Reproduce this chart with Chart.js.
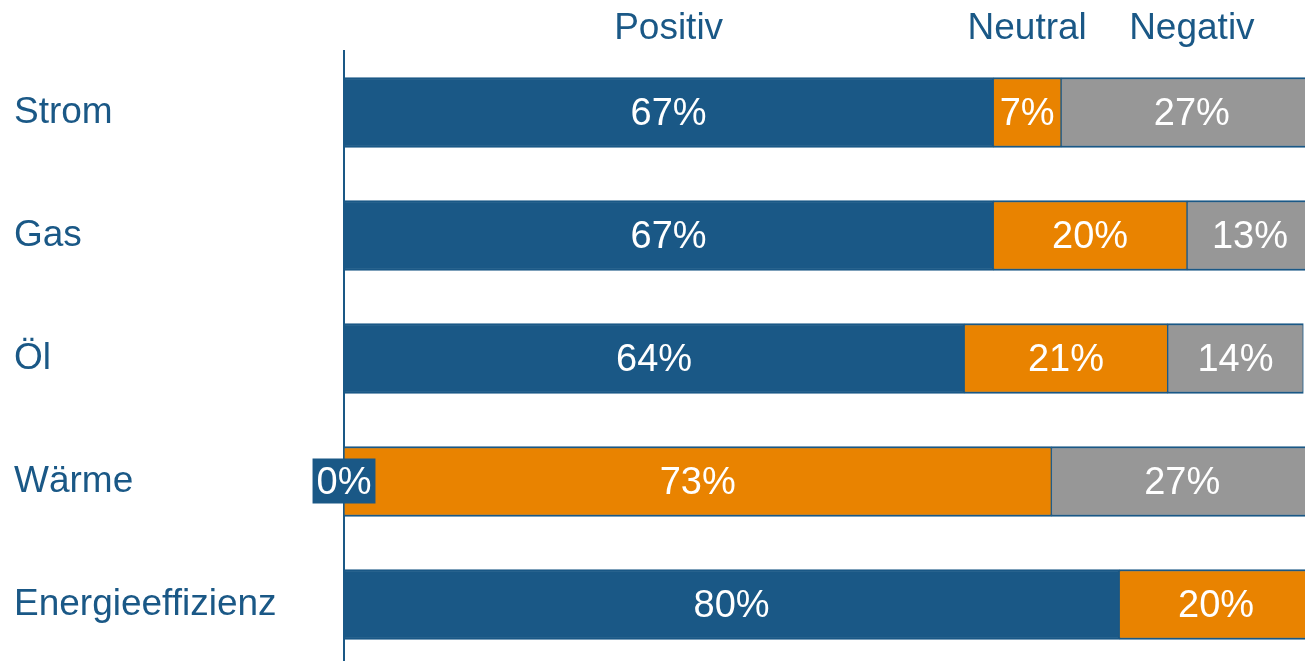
<!DOCTYPE html>
<html>
<head>
<meta charset="utf-8">
<script src="https://cdn.jsdelivr.net/npm/chart.js@4.4.1/dist/chart.umd.min.js"></script>
<style>
  html, body { margin: 0; padding: 0; background: #fff; overflow: hidden; }
  #wrap { position: relative; width: 1313px; height: 666px; }
</style>
</head>
<body>
<div id="wrap"><canvas id="chart"></canvas></div>
<script>
// categories and shares (%) per answer
const categories = ['Strom', 'Gas', 'Öl', 'Wärme', 'Energieeffizienz'];
const positiv = [67, 67, 64, 0, 80];
const neutral = [7, 20, 21, 73, 20];
const negativ = [27, 13, 14, 27, 0];
const seriesNames = ['Positiv', 'Neutral', 'Negativ'];
const xMin = 0;
const xMax = 100;

const BLUE = '#1a5886';
const ORANGE = '#e98300';
const GRAY = '#979797';
const FONT = '"Liberation Sans", Arial, sans-serif';

// white % labels inside the segments + series names above the first bar
const segmentLabels = {
    id: 'segmentLabels',
    afterDatasetsDraw(chart) {
        const ctx = chart.ctx;
        ctx.save();
        ctx.font = '38px ' + FONT;
        ctx.textAlign = 'center';
        ctx.textBaseline = 'middle';
        chart.data.datasets.forEach((ds, di) => {
            const meta = chart.getDatasetMeta(di);
            meta.data.forEach((bar, i) => {
                const v = ds.data[i];
                if (v === 0 && di !== 0) return;
                const text = v + '%';
                const cx = (bar.x + bar.base) / 2;
                if (v === 0) {
                    // empty segment: label gets a box in the series colour
                    const w = ctx.measureText(text).width + 8;
                    ctx.fillStyle = ds.backgroundColor;
                    ctx.fillRect(cx - w / 2, bar.y - 23, w, 45);
                }
                ctx.fillStyle = '#fff';
                ctx.fillText(text, cx, bar.y + 2);
            });
        });

        ctx.font = '37px ' + FONT;
        ctx.fillStyle = BLUE;
        ctx.textBaseline = 'alphabetic';
        chart.data.datasets.forEach((ds, di) => {
            const bar = chart.getDatasetMeta(di).data[0];
            ctx.fillText(ds.label, (bar.x + bar.base) / 2, 39);
        });
        ctx.restore();
    }
};

const segBorder = { top: 2, bottom: 2, left: 1, right: 1 };

new Chart(document.getElementById('chart'), {
    type: 'bar',
    data: {
        labels: categories,
        datasets: [
            {
                label: seriesNames[0],
                data: positiv,
                backgroundColor: BLUE,
                borderColor: BLUE,
                borderWidth: segBorder,
                borderSkipped: false
            },
            {
                label: seriesNames[1],
                data: neutral,
                backgroundColor: ORANGE,
                borderColor: BLUE,
                borderWidth: segBorder,
                borderSkipped: false
            },
            {
                label: seriesNames[2],
                data: negativ,
                backgroundColor: GRAY,
                borderColor: BLUE,
                borderWidth: segBorder,
                borderSkipped: false
            }
        ]
    },
    options: {
        indexAxis: 'y',
        responsive: true,
        maintainAspectRatio: false,
        animation: false,
        devicePixelRatio: 1,
        barThickness: 70,
        categoryPercentage: 1.0,
        layout: {
            padding: { top: 51, left: 14, right: 0, bottom: 0 }
        },
        plugins: {
            legend: { display: false },
            tooltip: { enabled: false }
        },
        scales: {
            x: {
                stacked: true,
                display: false,
                min: xMin,
                max: xMax
            },
            y: {
                stacked: true,
                grid: { display: false },
                border: { display: true, color: BLUE, width: 2 },
                ticks: {
                    color: BLUE,
                    crossAlign: 'far',
                    font: { family: FONT, size: 37 }
                },
                afterFit(scale) {
                    scale.width = 330;
                    scale.paddingTop = 0;
                    scale.paddingBottom = 0;
                }
            }
        }
    },
    plugins: [segmentLabels]
});
</script>
</body>
</html>
